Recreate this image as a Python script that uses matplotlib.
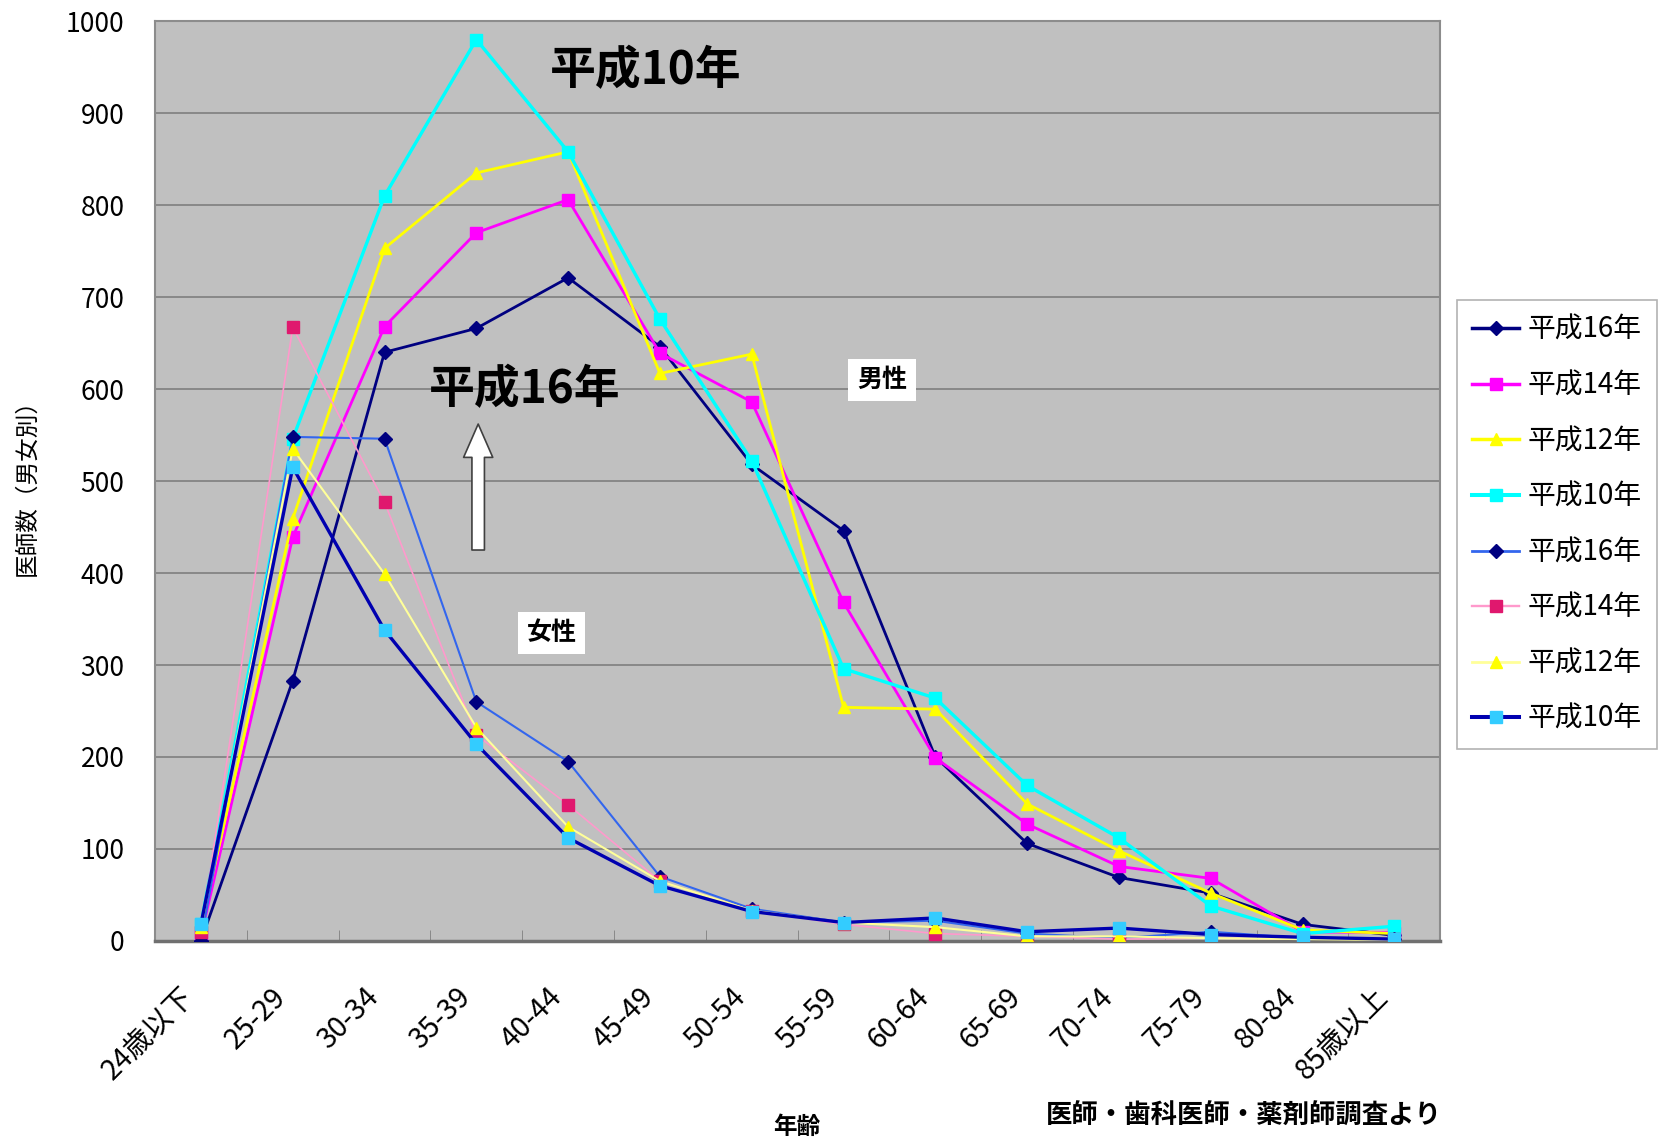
import matplotlib
matplotlib.use("Agg")
import matplotlib.pyplot as plt
from matplotlib.lines import Line2D

plt.rcParams['font.family'] = ['Noto Sans CJK JP', 'DejaVu Sans']

# --- data ---
ages = ['24歳以下', '25-29', '30-34', '35-39', '40-44', '45-49', '50-54',
        '55-59', '60-64', '65-69', '70-74', '75-79', '80-84', '85歳以上']

# male (男性)
male_h16 = [0, 283, 640, 666, 721, 646, 518, 446, 200, 106, 69, 52, 18, 6]
male_h14 = [5, 439, 668, 770, 806, 639, 586, 368, 199, 127, 81, 68, 10, 9]
male_h12 = [15, 459, 753, 835, 858, 617, 638, 254, 252, 149, 98, 52, 12, 8]
male_h10 = [18, 546, 810, 980, 858, 676, 522, 296, 264, 169, 112, 38, 8, 16]

# female (女性)
fem_h16 = [0, 548, 546, 260, 195, 70, 35, 20, 22, 8, 3, 10, 3, 2]
fem_h14 = [10, 667, 477, 224, 148, 65, 33, 18, 8, 5, 2, 3, 2, 2]
fem_h12 = [15, 535, 399, 232, 124, 65, 33, 20, 15, 5, 5, 3, 2, 1]
fem_h10 = [18, 515, 338, 214, 112, 60, 32, 20, 25, 10, 14, 7, 4, 2]

years = ['平成16年', '平成14年', '平成12年', '平成10年']

x = list(range(len(ages)))

fig = plt.figure(figsize=(16.67, 11.44), dpi=100)
ax = fig.add_axes([0.093, 0.1775, 0.771, 0.804])
ax.set_facecolor('#C0C0C0')

# --- series styles: (values, line colour, marker, marker colour, line width, marker size) ---
series = [
    (male_h16, '#000080', 'D', '#000080', 2.0, 7),
    (male_h14, '#FF00FF', 's', '#FF00FF', 2.0, 8),
    (male_h12, '#FFFF00', '^', '#FFFF00', 2.0, 9),
    (male_h10, '#00FFFF', 's', '#00FFFF', 2.4, 8),
    (fem_h16, '#3366EE', 'D', '#000080', 1.5, 7),
    (fem_h14, '#FF99CC', 's', '#E0186E', 1.2, 8),
    (fem_h12, '#FFFF99', '^', '#FFFF00', 1.5, 9),
    (fem_h10, '#0000B0', 's', '#33CCFF', 2.4, 8),
]

handles = []
for (vals, lc, mk, mc, lw, ms), lab in zip(series, years * 2):
    ax.plot(x, vals, color=lc, lw=lw, marker=mk, ms=ms, mfc=mc, mec=mc, zorder=3)
    handles.append(Line2D([], [], color=lc, lw=lw + 0.5, marker=mk, ms=ms,
                          mfc=mc, mec=mc, label=lab))

# --- axes ---
ax.set_xlim(-0.5, len(ages) - 0.5)
ax.set_ylim(0, 1000)
ax.set_yticks(range(0, 1001, 100))
ax.yaxis.grid(True, color='#7F7F7F', lw=1.2)
ax.set_axisbelow(True)
ax.tick_params(axis='y', length=0, pad=22, labelsize=19)

ax.set_xticks(x)
ax.set_xticklabels(ages, rotation=45, ha='right', va='bottom',
                   rotation_mode='anchor', fontsize=20.5)
ax.set_xticks([i + 0.5 for i in x[:-1]], minor=True)
ax.tick_params(axis='x', which='major', length=0, pad=45)
ax.tick_params(axis='x', which='minor', direction='in', length=8, color='#808080')

for s in ax.spines.values():
    s.set_color('#8C8C8C')
    s.set_linewidth(1.5)
ax.spines['bottom'].set_color('#707070')
ax.spines['bottom'].set_linewidth(2.5)

fig.text(27 / 1667, 1 - 481 / 1144, '医師数（男女別）', fontsize=17, rotation=90,
         ha='center', va='center')
fig.text(797 / 1667, 1 - 1127 / 1144, '年齢', fontsize=17, fontweight='bold',
         ha='center', va='center')

# --- annotations ---
ax.text(4.85, 946, '平成10年', fontsize=33, fontweight='bold', ha='center', va='center', zorder=5)
ax.text(3.53, 599, '平成16年', fontsize=33, fontweight='bold', ha='center', va='center', zorder=5)
box = dict(boxstyle='square,pad=0.35', fc='white', ec='none')
ax.text(7.42, 610, '男性', fontsize=18, fontweight='bold', ha='center', va='center', bbox=box, zorder=5)
ax.text(3.82, 335, '女性', fontsize=18, fontweight='bold', ha='center', va='center', bbox=box, zorder=5)
ax.annotate('', xy=(3.02, 565), xytext=(3.02, 422),
            arrowprops=dict(arrowstyle='simple,head_width=2.1,head_length=2.4,tail_width=0.9',
                            mutation_scale=10, fc='white', ec='#404040', lw=1.2), zorder=5)

fig.text(0.865, 0.024, '医師・歯科医師・薬剤師調査より', fontsize=19, fontweight='bold',
         ha='right', va='center')

leg = fig.legend(handles=handles, loc='upper left', bbox_to_anchor=(0.874, 0.738),
                 bbox_transform=fig.transFigure, fontsize=20, frameon=True, fancybox=False,
                 edgecolor='#A0A0A0', labelspacing=0.92, handlelength=1.7,
                 handletextpad=0.3, borderpad=0.55, borderaxespad=0)
leg.get_frame().set_linewidth(1.2)

fig.savefig('out.png', dpi=100, facecolor='white')
